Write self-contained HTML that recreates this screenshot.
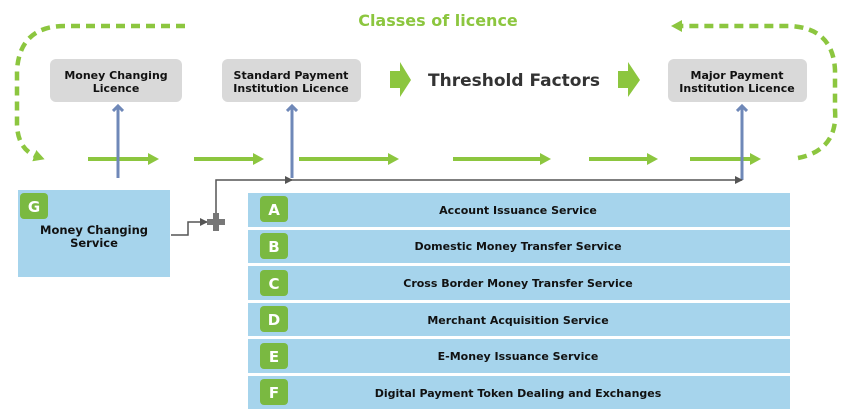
<!DOCTYPE html>
<html><head><style>
body{margin:0;background:#fff;}
svg text{font-family:"DejaVu Sans","Liberation Sans",sans-serif;font-weight:bold;}
</style></head><body>
<svg width="850" height="414" viewBox="0 0 850 414" xmlns="http://www.w3.org/2000/svg">
<defs>
<marker id="ga" markerWidth="12" markerHeight="12" refX="4" refY="6" orient="auto" markerUnits="userSpaceOnUse"><path d="M0,0 L11,6 L0,12 Z" fill="#8cc63f"/></marker>
<marker id="ba" markerWidth="12" markerHeight="12" refX="6" refY="6" orient="auto" markerUnits="userSpaceOnUse"><path d="M1,1 L6,6 L1,11" fill="none" stroke="#6f88b8" stroke-width="3"/></marker>
<marker id="ka" markerWidth="8" markerHeight="8" refX="7" refY="4" orient="auto" markerUnits="userSpaceOnUse"><path d="M0,0 L8,4 L0,8 Z" fill="#555"/></marker>
</defs>
<text x="438" y="26" font-size="16" fill="#8cc63f" text-anchor="middle">Classes of licence</text>
<path d="M185,26 L65,26 Q20,26 17,70 L17,125 Q18,150 38,157" fill="none" stroke="#8cc63f" stroke-width="4.5" stroke-dasharray="9,6" marker-end="url(#ga)"/>
<path d="M798,158 Q838,150 835,110 L835,70 Q833,28 790,26 L678,26" fill="none" stroke="#8cc63f" stroke-width="4.5" stroke-dasharray="9,6" marker-end="url(#ga)"/>
<rect x="50" y="59" width="132" height="43" rx="6" fill="#d9d9d9"/>
<text x="116" y="79" font-size="11" text-anchor="middle" fill="#111">Money Changing</text>
<text x="116" y="92" font-size="11" text-anchor="middle" fill="#111">Licence</text>
<rect x="222" y="59" width="139" height="43" rx="6" fill="#d9d9d9"/>
<text x="291" y="79" font-size="11" text-anchor="middle" fill="#111">Standard Payment</text>
<text x="291" y="92" font-size="11" text-anchor="middle" fill="#111">Institution Licence</text>
<rect x="668" y="59" width="139" height="43" rx="6" fill="#d9d9d9"/>
<text x="737" y="79" font-size="11" text-anchor="middle" fill="#111">Major Payment</text>
<text x="737" y="92" font-size="11" text-anchor="middle" fill="#111">Institution Licence</text>
<text x="514" y="86" font-size="17" text-anchor="middle" fill="#333">Threshold Factors</text>
<path d="M390,71 L400,71 L400,62 L411,80 L400,97 L400,88 L390,88 Z" fill="#8cc63f"/>
<path d="M618,71 L628,71 L628,62 L640,80 L628,97 L628,88 L618,88 Z" fill="#8cc63f"/>
<g stroke="#8cc63f" stroke-width="4" fill="none" marker-end="url(#ga)">
<line x1="88" y1="159" x2="152" y2="159"/>
<line x1="194" y1="159" x2="257" y2="159"/>
<line x1="299" y1="159" x2="392" y2="159"/>
<line x1="453" y1="159" x2="544" y2="159"/>
<line x1="589" y1="159" x2="651" y2="159"/>
<line x1="690" y1="159" x2="754" y2="159"/>
</g>
<g stroke="#6f88b8" stroke-width="3" marker-end="url(#ba)">
<line x1="118" y1="178" x2="118" y2="106"/>
<line x1="292" y1="178" x2="292" y2="106"/>
<line x1="742" y1="180" x2="742" y2="106"/>
</g>
<path d="M216,213 L216,180 L292,180" fill="none" stroke="#555" stroke-width="1.5" marker-end="url(#ka)"/>
<path d="M290,180 L742,180" fill="none" stroke="#555" stroke-width="1.5" marker-end="url(#ka)"/>
<path d="M171,235 L188,235 L188,222 L207,222" fill="none" stroke="#555" stroke-width="1.5" marker-end="url(#ka)"/>
<path d="M213,213 h6 v6 h6 v6 h-6 v6 h-6 v-6 h-6 v-6 h6 z" fill="#777"/>
<rect x="18" y="190" width="152" height="87" fill="#a6d4ec"/>
<rect x="20" y="193" width="28" height="26" rx="4" fill="#7ab941"/>
<text x="34" y="212" font-size="15" fill="#fff" text-anchor="middle">G</text>
<text x="94" y="234" font-size="11.5" text-anchor="middle" fill="#111">Money Changing</text>
<text x="94" y="247" font-size="11.5" text-anchor="middle" fill="#111">Service</text>
<g font-size="11">
<rect x="248" y="193" width="542" height="34" fill="#a6d4ec"/>
<rect x="260" y="196" width="28" height="26" rx="4" fill="#7ab941"/>
<text x="274" y="215" font-size="15" fill="#fff" text-anchor="middle">A</text>
<text x="518" y="214" text-anchor="middle" fill="#111">Account Issuance Service</text>
<rect x="248" y="230" width="542" height="33" fill="#a6d4ec"/>
<rect x="260" y="233" width="28" height="26" rx="4" fill="#7ab941"/>
<text x="274" y="252" font-size="15" fill="#fff" text-anchor="middle">B</text>
<text x="518" y="250" text-anchor="middle" fill="#111">Domestic Money Transfer Service</text>
<rect x="248" y="266" width="542" height="34" fill="#a6d4ec"/>
<rect x="260" y="270" width="28" height="26" rx="4" fill="#7ab941"/>
<text x="274" y="289" font-size="15" fill="#fff" text-anchor="middle">C</text>
<text x="518" y="287" text-anchor="middle" fill="#111">Cross Border Money Transfer Service</text>
<rect x="248" y="303" width="542" height="33" fill="#a6d4ec"/>
<rect x="260" y="306" width="28" height="26" rx="4" fill="#7ab941"/>
<text x="274" y="325" font-size="15" fill="#fff" text-anchor="middle">D</text>
<text x="518" y="324" text-anchor="middle" fill="#111">Merchant Acquisition Service</text>
<rect x="248" y="339" width="542" height="34" fill="#a6d4ec"/>
<rect x="260" y="343" width="28" height="26" rx="4" fill="#7ab941"/>
<text x="274" y="362" font-size="15" fill="#fff" text-anchor="middle">E</text>
<text x="518" y="360" text-anchor="middle" fill="#111">E-Money Issuance Service</text>
<rect x="248" y="376" width="542" height="33" fill="#a6d4ec"/>
<rect x="260" y="379" width="28" height="26" rx="4" fill="#7ab941"/>
<text x="274" y="398" font-size="15" fill="#fff" text-anchor="middle">F</text>
<text x="518" y="397" text-anchor="middle" fill="#111">Digital Payment Token Dealing and Exchanges</text>
</g>
</svg>
</body></html>
